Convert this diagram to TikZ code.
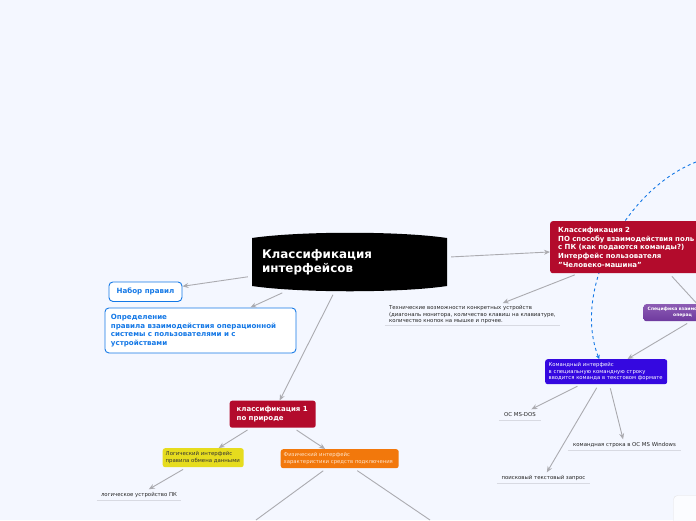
\documentclass[tikz,border=0pt]{standalone}
\usepackage{fontspec}
\setmainfont{DejaVu Sans}
\usepackage{xcolor}
\usetikzlibrary{arrows.meta, backgrounds}
\definecolor{pagebg}{HTML}{F4F7FF}
\definecolor{crimson}{HTML}{B30B2C}
\definecolor{linkblue}{HTML}{1478E6}
\definecolor{edgegray}{HTML}{ABABB0}
\definecolor{undergray}{HTML}{D8DAE2}
\definecolor{logicyellow}{HTML}{E6DC1E}
\definecolor{physorange}{HTML}{F2780C}
\definecolor{cmdblue}{HTML}{3508E0}
\definecolor{spectop}{HTML}{8C5CB4}
\definecolor{specbot}{HTML}{6E3A9E}
\tikzset{
    link/.style={draw=edgegray, line width=0.9pt, shorten <=4pt, shorten >=0pt, -{Stealth[length=6pt,width=5pt]}},
    plain/.style={draw=edgegray, line width=0.9pt, shorten <=4pt},
    box/.style={rounded corners=2.5pt, inner ysep=0pt, align=left, anchor=north west},
    whitebox/.style={box, rounded corners=4pt, draw=linkblue, fill=white, line width=0.9pt, text=linkblue, font=\bfseries\fontsize{7.1}{8.6}\selectfont},
    redbox/.style={box, fill=crimson, text=white, font=\bfseries\fontsize{7}{9.5}\selectfont},
    smallbox/.style={box, font=\fontsize{5.3}{6.8}\selectfont},
    leaf/.style={minimum height=11pt, inner sep=0pt, align=left, text=black!85, font=\fontsize{5.4}{6.5}\selectfont},
    under/.style={draw=undergray, line width=0.7pt},
}
\begin{document}
\begin{tikzpicture}[x=1pt, y=-1pt]
    \useasboundingbox (0,0) rectangle (696,520);
    \clip (0,0) rectangle (696,520);

    % main topic
    \fill [black] (252,238) .. controls (300,231) and (400,231) .. (447,238)
        -- (447,286) .. controls (400,293) and (300,293) .. (252,286) -- cycle;
    \node [inner xsep=10pt, text width=175pt, minimum height=58pt, align=left, text=white, font=\bfseries\fontsize{11.9}{14}\selectfont] (root) at (349.5,262)
        {Классификация\\интерфейсов};

    % left branch
    \node [whitebox, minimum width=73pt, minimum height=19.5pt, align=center] (rules) at (108.5,281.5) {Набор правил};
    \node [whitebox, minimum height=45pt, text width=179pt, inner xsep=6pt] (defn) at (104.5,307.5)
        {Определение\\правила взаимодействия операционной\\системы с пользователями и с\\устройствами};
    \draw [link] (root) -- (rules);
    \draw [link] (root) -- (defn);

    % class 1
    \node [redbox, minimum height=27pt, text width=72pt, inner xsep=7pt] (classA) at (229.5,400.5)
        {классификация 1\\по природе};
    \draw [link] (root) -- (classA);
    \node [smallbox, fill=logicyellow, text=black!80, font=\fontsize{5.4}{7}\selectfont, minimum height=19pt, text width=75pt, inner xsep=3pt] (logic) at (162.5,448)
        {Логический интерфейс\\правила обмена данными};
    \node [smallbox, fill=physorange, text=white!80!orange, minimum height=19pt, text width=112pt, inner xsep=3pt] (phys) at (280.5,449)
        {Физический интерфейс\\характеристики средств подключения};
    \draw [link] (classA) -- (logic);
    \draw [link] (classA) -- (phys);
    \node [leaf, minimum width=84pt, align=center] (logdev) at (139,495) {логическое устройство ПК};
    \draw [under] (logdev.south west) -- (logdev.south east);
    \draw [link] (logic) -- (logdev);
    \coordinate (physA) at (256,520);
    \coordinate (physB) at (430,520);
    \draw [plain] (phys) -- (physA);
    \draw [plain] (phys) -- (physB);

    % class 2
    \node [redbox, minimum height=52pt, text width=174pt, inner xsep=8pt, font=\bfseries\fontsize{7}{8.6}\selectfont] (classB) at (550,221)
        {Классификация 2\\ПО способу взаимодействия поль\\с ПК (как подаются команды?)\\Интерфейс пользователя\\"Человеко-машина"};
    \draw [link] (root) -- (classB);
    \node [leaf, text width=167pt, inner xsep=4pt] (tech) at (472.5,315)
        {Технические возможности конкретных устройств\\(диагональ монитора, количество клавиш на клавиатуре,\\количество кнопок на мышке и прочее.};
    \draw [under] ([yshift=-1.5pt]tech.south west) -- ([yshift=-1.5pt]tech.south east);
    \draw [link, shorten >=7pt] (classB) -- (tech);
    \node [smallbox, top color=spectop, bottom color=specbot, text=white, text width=115pt, inner xsep=4pt, minimum height=17pt, font=\bfseries\fontsize{4.5}{6}\selectfont] (spec) at (643.5,304)
        {Специфика взаимо\\\hspace*{25.5pt}операц};
    \draw [plain] (classB) -- (spec);

    % command line
    \node [smallbox, fill=cmdblue, text=white, minimum height=25pt, text width=115pt, inner xsep=3.5pt] (cmd) at (545,359)
        {Командный интерфейс\\в специальную командную строку\\вводится команда в текстовом формате};
    \draw [link] (spec) -- (cmd);
    \node [leaf, minimum width=42pt, align=center] (dos) at (520,415) {ОС MS-DOS};
    \draw [under] (dos.south west) -- (dos.south east);
    \node [leaf, minimum width=113pt, align=center] (winc) at (624.5,445) {командная строка в ОС MS Windows};
    \draw [under] (winc.south west) -- (winc.south east);
    \node [leaf, minimum width=93pt, align=center] (query) at (543.5,478) {поисковый текстовый запрос};
    \draw [under] (query.south west) -- (query.south east);
    \draw [link] (cmd) -- (dos);
    \draw [link] (cmd) -- (query);
    \draw [link] (cmd) -- (winc);

    % page and relation, behind the boxes
    \begin{pgfonlayer}{background}
        \fill [pagebg] (0,0) rectangle (696,520);
        \coordinate (relEnd) at (696,162);
        \draw [linkblue, line width=0.9pt, dash pattern=on 3pt off 3pt, -{Stealth[length=4pt,width=4pt]}]
            (relEnd) .. controls (625,190) and (572,290) .. ([xshift=-7pt]cmd.north);
    \end{pgfonlayer}

    % page corner
    \draw [draw=white!90!black, fill=pagebg!40!white, rounded corners=4pt] (673.5,495.5) rectangle (710,540);
\end{tikzpicture}
\end{document}
